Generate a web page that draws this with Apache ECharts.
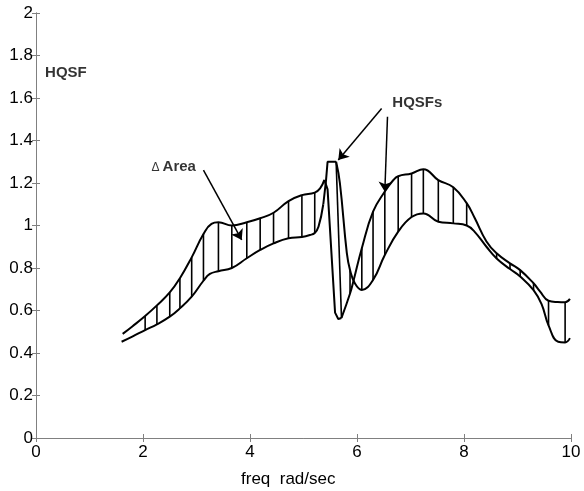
<!DOCTYPE html>
<html>
<head>
<meta charset="utf-8">
<script src="https://cdn.jsdelivr.net/npm/echarts@6/dist/echarts.min.js"></script>
<style>html,body{margin:0;padding:0;background:#fff}#c{width:584px;height:491px}</style>
</head>
<body>
<div id="c"></div>
<script>
// ---- data ----
const xTicks = [0, 2, 4, 6, 8, 10];
const yTicks = [0, 0.2, 0.4, 0.6, 0.8, 1, 1.2, 1.4, 1.6, 1.8, 2];

// curve A (upper on the left, dips sharply at ~5.6)
const freqA = [1.62,1.8,2.04,2.26,2.5,2.69,2.91,3.13,3.28,3.41,3.66,3.94,4.19,4.44,4.72,4.97,5.21,5.31,5.39,5.45,5.59,5.65,5.71,5.87,5.93,6.09,6.3,6.52,6.68,6.77,7.02,7.24,7.52,7.8,8.05,8.2,8.42,8.61,8.86,9.05,9.3,9.42,9.58,9.75,9.89,9.98];
const hqsfA = [0.49,0.525,0.574,0.624,0.685,0.752,0.85,0.96,1.008,1.015,1.0,1.015,1.034,1.06,1.115,1.143,1.155,1.175,1.215,1.17,0.59,0.56,0.565,0.68,0.735,0.893,1.065,1.16,1.214,1.232,1.245,1.265,1.214,1.18,1.105,1.035,0.925,0.869,0.822,0.79,0.728,0.69,0.646,0.64,0.639,0.655];
// index ranges: smooth 0..18, sharp spike 18..22, smooth 22..end
const splitA = [18, 22];

// curve B (lower on the left, flat-topped spike then minimum at ~6.1)
const freqB = [1.6,1.8,2.04,2.26,2.5,2.69,2.91,3.13,3.25,3.41,3.66,3.94,4.19,4.44,4.72,4.97,5.12,5.21,5.28,5.37,5.42,5.45,5.61,5.68,5.81,5.87,5.96,6.09,6.3,6.52,6.77,7.02,7.24,7.52,7.8,8.05,8.2,8.42,8.61,8.86,9.05,9.3,9.45,9.58,9.76,9.89,9.98];
const hqsfB = [0.453,0.477,0.508,0.535,0.571,0.61,0.665,0.74,0.772,0.785,0.80,0.846,0.885,0.916,0.94,0.946,0.955,0.965,0.994,1.10,1.21,1.30,1.30,1.2,0.87,0.79,0.728,0.697,0.744,0.861,0.971,1.04,1.057,1.018,1.01,1.0,0.97,0.90,0.845,0.795,0.76,0.696,0.63,0.53,0.453,0.45,0.47];
const splitB = [19, 22];

// vertical hatching (delta area) between the curves
const hatchX   = [2.04,2.26,2.5,2.69,2.91,3.13,3.41,3.66,3.94,4.19,4.44,4.72,4.97,5.21,5.87,6.09,6.3,6.52,6.77,7.02,7.24,7.52,7.8,8.05,8.61,8.86,9.05,9.3,9.58,9.89];
const hatchTop = [0.574,0.624,0.685,0.752,0.85,0.96,1.015,1.0,1.015,1.034,1.06,1.115,1.143,1.155,0.79,0.893,1.065,1.16,1.232,1.245,1.265,1.214,1.18,1.105,0.869,0.822,0.79,0.728,0.646,0.639];
const hatchBot = [0.508,0.535,0.571,0.61,0.665,0.74,0.785,0.80,0.846,0.885,0.916,0.94,0.946,0.965,0.68,0.697,0.744,0.861,0.971,1.04,1.057,1.018,1.01,1.0,0.845,0.795,0.76,0.696,0.53,0.45];

// extra edge of the spike
const spikeEdge = [[5.61, 1.30], [5.71, 0.565]];

// annotation arrows [from, to] in data units
const arrows = [
  [[3.13, 1.261], [3.845, 0.932]],
  [[6.46, 1.551], [5.65, 1.308]],
  [[6.57, 1.512], [6.52, 1.159]]
];
// annotation texts
const notes = [
  [0.17, 1.719, '{b|HQSF}'],
  [2.16, 1.277, '{d|\u0394}{b|Area}'],
  [6.66, 1.576, '{b|HQSFs}']
];

const FONT = '"Liberation Sans", Arial, sans-serif';
const AXC = '#808080';

const chart = echarts.init(document.getElementById('c'), null, {renderer: 'canvas'});

function zip(xs, ys, a, b) {
  const out = [];
  for (let i = a; i <= b; i++) out.push([xs[i], ys[i]]);
  return out;
}
function curve(xs, ys, split) {
  const n = xs.length - 1;
  const parts = [[0, split[0], 0.45], [split[0], split[1], 0], [split[1], n, 0.45]];
  return parts.map(p => ({
    type: 'line', data: zip(xs, ys, p[0], p[1]), showSymbol: false,
    smooth: p[2], lineStyle: {color: '#000', width: 2}, silent: true
  }));
}

const baseX = {
  type: 'value', min: xTicks[0], max: xTicks[xTicks.length - 1], interval: xTicks[1] - xTicks[0],
  axisLine: {show: true, lineStyle: {color: AXC, width: 1}},
  axisTick: {show: true, inside: true, length: 4, lineStyle: {color: AXC}},
  splitLine: {show: false}
};
const baseY = {
  type: 'value', min: yTicks[0], max: yTicks[yTicks.length - 1], interval: yTicks[1] - yTicks[0],
  axisLine: {show: true, lineStyle: {color: AXC, width: 1}},
  axisTick: {show: true, inside: true, length: 4, lineStyle: {color: AXC}},
  splitLine: {show: false}
};

const option = {
  animation: false,
  backgroundColor: '#fff',
  grid: {left: 36, right: 13, top: 13, bottom: 53, containLabel: false},
  xAxis: [
    Object.assign({}, baseX, {position: 'bottom',
      axisLabel: {show: true, color: '#000', fontFamily: FONT, fontSize: 17, margin: 6}}),
    Object.assign({}, baseX, {position: 'top', axisLabel: {show: false}})
  ],
  yAxis: [
    Object.assign({}, baseY, {position: 'left',
      axisLabel: {show: true, color: '#000', fontFamily: FONT, fontSize: 17, margin: 3}}),
    Object.assign({}, baseY, {position: 'right', axisLabel: {show: false}})
  ],
  graphic: [{
    type: 'text', left: 241, top: 471,
    style: {text: 'freq  rad/sec', font: '17px ' + FONT, fill: '#000'}
  }],
  series: [].concat(
    curve(freqA, hqsfA, splitA),
    curve(freqB, hqsfB, splitB),
    [
      {
        type: 'line', data: spikeEdge, showSymbol: false,
        lineStyle: {color: '#000', width: 1.6}, silent: true
      },
      {
        type: 'custom', silent: true,
        data: hatchX.map((x, i) => [x, hatchTop[i], hatchBot[i]]),
        encode: {x: 0, y: [1, 2]},
        renderItem: function (params, api) {
          const p1 = api.coord([api.value(0), api.value(1)]);
          const p2 = api.coord([api.value(0), api.value(2)]);
          return {type: 'line', shape: {x1: p1[0], y1: p1[1], x2: p2[0], y2: p2[1]},
                  style: {stroke: '#000', lineWidth: 1.6}};
        }
      },
      {
        type: 'lines', coordinateSystem: 'cartesian2d', silent: true,
        symbol: ['none', 'arrow'], symbolSize: 10,
        lineStyle: {color: '#000', width: 1.5, opacity: 1},
        data: arrows.map(a => ({coords: a}))
      },
      {
        type: 'scatter', symbolSize: 0, silent: true,
        data: notes,
        label: {
          show: true, position: [0, 0], align: 'left', verticalAlign: 'middle',
          formatter: p => p.value[2],
          rich: {
            b: {fontFamily: FONT, fontSize: 15, fontWeight: 'bold', color: '#000'},
            d: {fontFamily: FONT, fontSize: 12, color: '#000', padding: [3, 3, 0, 0]}
          }
        }
      }
    ]
  )
};
chart.setOption(option);
</script>
</body>
</html>
